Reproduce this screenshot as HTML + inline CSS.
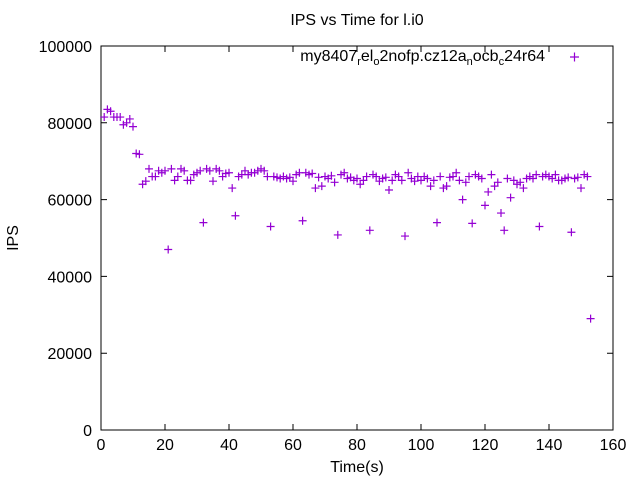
<!DOCTYPE html>
<html><head><meta charset="utf-8"><style>
body{margin:0;background:#fff}
svg text{font-family:"Liberation Sans",sans-serif;font-size:16px;fill:#000}
</style></head><body>
<svg id="chart" width="640" height="480" xmlns="http://www.w3.org/2000/svg">
<rect width="640" height="480" fill="#fff"/>
<text x="357" y="25" text-anchor="middle">IPS vs Time for l.i0</text>
<text x="18" y="238" text-anchor="middle" transform="rotate(-90 18 238)">IPS</text>
<text x="357" y="472" text-anchor="middle">Time(s)</text>
<g id="axes"></g>
<g id="marks"></g>
<text x="545" y="61" text-anchor="end">my8407<tspan font-size="11" dy="4">r</tspan><tspan dy="-4">el</tspan><tspan font-size="11" dy="4">o</tspan><tspan dy="-4">2nofp.cz12a</tspan><tspan font-size="11" dy="4">n</tspan><tspan dy="-4">ocb</tspan><tspan font-size="11" dy="4">c</tspan><tspan dy="-4">24r64</tspan></text>
<path d="M570 57h9M574.5 52.5v9" stroke="#9400d3" stroke-width="1.2"/>
</svg>
<script>
const xTicks=[0,20,40,60,80,100,120,140,160];
const yTicks=[0,20000,40000,60000,80000,100000];
const times=[];for(let i=1;i<=153;i++)times.push(i);
const ips=[81500,83500,83000,81500,81500,81500,79500,80000,81000,79000,
72000,71800,64000,64800,68000,66000,66000,67500,67000,67500,
47000,68000,65000,66000,68000,67500,65000,65000,66500,67000,
67500,54000,68000,67500,64800,68000,67500,66000,66800,67000,
63000,55800,66000,66500,67500,66500,67000,67000,67500,68000,
67500,66000,53000,66000,65800,65500,66000,65500,65800,64800,
66500,67000,54500,67000,66500,66800,63000,65800,63500,66000,
65500,66200,64500,50800,66500,67000,65500,65800,65000,65500,
64000,65000,66000,52000,66500,66000,64800,65500,65800,62500,
65000,66500,66000,65000,50500,67000,65500,64800,66000,65000,
66000,65500,63500,65000,54000,66000,63000,63500,65800,66000,
67000,65000,60000,64500,66000,53800,66500,66000,65500,58500,
62000,66500,63500,64500,56500,52000,65500,60500,65000,64000,
64500,63000,65500,66000,65500,66500,53000,66000,66500,66000,
65500,66500,65000,65000,65500,65800,51500,65500,65800,63000,
66500,66000,29000];
const L=101,R=613,T=46,B=430;
const X=v=>L+(v-0)/(160-0)*(R-L);
const Y=v=>B-(v-0)/(100000-0)*(B-T);
const NS="http://www.w3.org/2000/svg";
const ax=document.getElementById('axes'),mk=document.getElementById('marks');
function mkEl(t,a){const e=document.createElementNS(NS,t);for(const k in a)e.setAttribute(k,a[k]);return e;}
const frame=mkEl('rect',{x:L,y:T,width:R-L,height:B-T,fill:'none',stroke:'#000','stroke-width':1});


ax.appendChild(frame);
xTicks.forEach(v=>{
const x=X(v);
const t=mkEl('path',{d:`M${x} ${B}v-6M${x} ${T}v6`,stroke:'#000'});


ax.appendChild(t);
const l=mkEl('text',{x:x,y:B+20,'text-anchor':'middle'});l.textContent=v;


ax.appendChild(l);
});
yTicks.forEach(v=>{
const y=Y(v);
const t=mkEl('path',{d:`M${L} ${y}h6M${R} ${y}h-6`,stroke:'#000'});


ax.appendChild(t);
const l=mkEl('text',{x:L-9,y:y+6,'text-anchor':'end'});l.textContent=v;


ax.appendChild(l);
});
times.forEach((t,i)=>{
const x=X(t),y=Y(ips[i]);
const p=mkEl('path',{d:`M${x-4} ${y}h8M${x} ${y-4}v8`,stroke:'#9400d3','stroke-width':1.2});


mk.appendChild(p);
});
</script>
</body></html>
